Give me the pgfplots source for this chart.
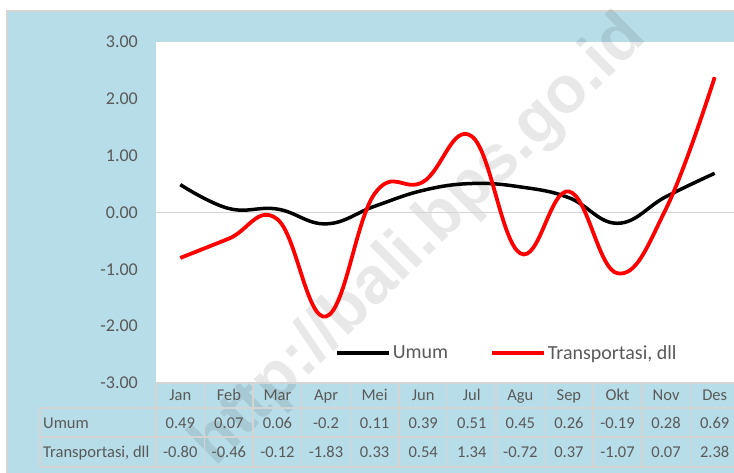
\documentclass[border=0pt]{standalone}
\usepackage{pgfplots}
\pgfplotsset{compat=1.18}
\usepackage{pgfplotstable}
\usepackage{fontspec}
\setmainfont{Carlito}
\newfontfamily\wmfont{Liberation Sans}
\definecolor{bgblue}{RGB}{183,221,232}
\definecolor{txtgray}{RGB}{89,89,89}
\definecolor{cellline}{RGB}{212,212,212}

% month index, Umum, Transportasi dll
\pgfplotstableread{
m umum trans
0  0.49 -0.80
1  0.07 -0.46
2  0.06 -0.12
3  -0.20 -1.83
4  0.11 0.33
5  0.39 0.54
6  0.51 1.34
7  0.45 -0.72
8  0.26 0.37
9  -0.19 -1.07
10 0.28 0.07
11 0.69 2.38
}\data

\begin{document}
\begin{tikzpicture}[x=1pt,y=1pt]
\useasboundingbox (0,0) rectangle (734,473);
\clip (0,0) rectangle (734,473);
\fill[white] (0,0) rectangle (734,473);
\fill[bgblue] (7,0) rectangle (745,462);
\draw[cellline, line width=1.5pt] (7,0) -- (7,462) -- (745,462);
\fill[white] (156,90) rectangle (745,431);
\node[rotate=44.7, text=black, opacity=0.09, font=\wmfont\bfseries\fontsize{66}{70}\selectfont] at (420,232) {http://bali.bps.go.id};

\begin{axis}[
  at={(156pt,90pt)}, anchor=south west,
  scale only axis, width=583pt, height=341pt,
  xmin=-0.5, xmax=11.5, ymin=-3, ymax=3,
  xtick=\empty, ytick={-3,-2,...,3},
  axis line style={draw=none}, tick style={draw=none},
  yticklabel style={/pgf/number format/fixed, /pgf/number format/fixed zerofill,
    /pgf/number format/precision=2, /pgf/number format/assume math mode=true,
    font=\fontsize{18}{20}\selectfont, text=txtgray, anchor=east, inner sep=0pt, xshift=-18pt},
  legend columns=2,
  legend style={at={(0.602,0.088)}, anchor=center, draw=none, fill=none,
    font=\fontsize{20}{22}\selectfont, text=txtgray,
    /tikz/every even column/.append style={column sep=40pt}},
  legend image code/.code={\draw[#1, sharp plot] (0pt,0pt) -- (52pt,0pt);},
]
\addplot[cellline, line width=1pt, forget plot] coordinates {(-0.5,0) (11.5,0)};
\addplot[black, line width=3.5pt, smooth, tension=0.7] table[x=m, y=umum] {\data};
\addplot[red, line width=3.8pt, smooth, tension=0.7] table[x=m, y=trans] {\data};
\legend{Umum, Transportasi{,} dll}
\end{axis}

% data table under the chart
\begin{scope}[cellline, line width=1.5pt]
  \draw (156,90) -- (745,90);
  \draw (40,65) -- (745,65);
  \draw (40,36) -- (745,36);
  \draw (40,6) -- (745,6);
  \draw (40,6) -- (40,65);
  \foreach \k in {0,...,12} \draw ({156+48.58*\k},6) -- ({156+48.58*\k},90);
\end{scope}
\begin{scope}[every node/.style={text=txtgray, anchor=base, inner sep=0pt, font=\fontsize{16.5}{18}\selectfont}]
  \foreach \t [count=\i from 0] in {Jan,Feb,Mar,Apr,Mei,Jun,Jul,Agu,Sep,Okt,Nov,Des}
    \node at ({156+48.58*(\i+0.5)},72.5) {\t};
  \foreach \t [count=\i from 0] in {0.49,0.07,0.06,-0.2,0.11,0.39,0.51,0.45,0.26,-0.19,0.28,0.69}
    \node at ({156+48.58*(\i+0.5)},44.5) {\t};
  \foreach \t [count=\i from 0] in {-0.80,-0.46,-0.12,-1.83,0.33,0.54,1.34,-0.72,0.37,-1.07,0.07,2.38}
    \node at ({156+48.58*(\i+0.5)},15.5) {\t};
  \node[anchor=base west] at (43,44.5) {Umum};
  \node[anchor=base west] at (43,15.5) {Transportasi, dll};
\end{scope}
\end{tikzpicture}
\end{document}
